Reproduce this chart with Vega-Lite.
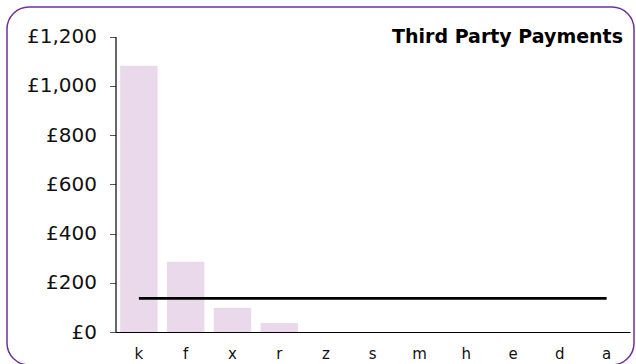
{
  "$schema": "https://vega.github.io/schema/vega-lite/v6.json",
  "width": 627,
  "height": 358,
  "autosize": {"type": "none"},
  "padding": {"left": 7, "top": 7, "right": 2, "bottom": 0},
  "background": "white",
  "title": {
    "text": "Third Party Payments",
    "anchor": "end",
    "orient": "top",
    "frame": "group",
    "font": "DejaVu Sans",
    "fontSize": 19,
    "fontWeight": "bold",
    "color": "#000000",
    "baseline": "alphabetic",
    "offset": -55,
    "dx": -11
  },
  "config": {
    "view": {"stroke": "#7030a0", "strokeWidth": 1.5, "cornerRadius": 22, "fill": "white"},
    "font": "DejaVu Sans"
  },
  "data": {
    "values": [
      {"cat": "k", "amount": 1081},
      {"cat": "f", "amount": 285},
      {"cat": "x", "amount": 98},
      {"cat": "r", "amount": 37},
      {"cat": "z", "amount": 0},
      {"cat": "s", "amount": 0},
      {"cat": "m", "amount": 0},
      {"cat": "h", "amount": 0},
      {"cat": "e", "amount": 0},
      {"cat": "d", "amount": 0},
      {"cat": "a", "amount": 0}
    ]
  },
  "encoding": {
    "x": {
      "field": "cat",
      "type": "nominal",
      "sort": null,
      "scale": {"range": [108.5, 623], "paddingInner": 0.2, "paddingOuter": 0.1},
      "axis": {
        "title": null,
        "offset": -33,
        "labelAngle": 0,
        "labelFont": "DejaVu Sans",
        "labelFontSize": 15,
        "labelColor": "#111111",
        "labelPadding": 14,
        "ticks": false,
        "domainColor": "#000000",
        "domainWidth": 1.2,
        "grid": false
      }
    }
  },
  "layer": [
    {
      "mark": {"type": "bar", "color": "#ead9eb"},
      "encoding": {
        "y": {
          "field": "amount",
          "type": "quantitative",
          "scale": {"domain": [0, 1200], "range": [325, 29.5], "nice": false},
          "axis": {
            "title": null,
            "offset": -108.5,
            "values": [0, 200, 400, 600, 800, 1000, 1200],
            "labelExpr": "'£' + format(datum.value, ',')",
            "labelFont": "DejaVu Sans",
            "labelFontSize": 20,
            "labelColor": "#111111",
            "labelPadding": 13,
            "tickSize": 6,
            "tickColor": "#555555",
            "domainColor": "#000000",
            "domainWidth": 1.2,
            "grid": false
          }
        }
      }
    },
    {
      "transform": [{"joinaggregate": [{"op": "mean", "field": "amount", "as": "avg"}]}],
      "mark": {"type": "line", "color": "#000000", "strokeWidth": 2.6},
      "encoding": {
        "y": {"field": "avg", "type": "quantitative"}
      }
    }
  ]
}
